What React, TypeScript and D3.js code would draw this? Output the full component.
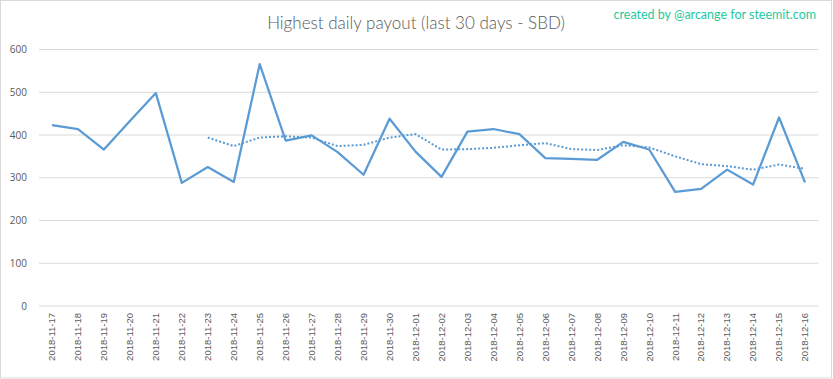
import React from "react";
import * as d3 from "d3";

const categories = [
  "2018-11-17","2018-11-18","2018-11-19","2018-11-20","2018-11-21","2018-11-22","2018-11-23",
  "2018-11-24","2018-11-25","2018-11-26","2018-11-27","2018-11-28","2018-11-29","2018-11-30",
  "2018-12-01","2018-12-02","2018-12-03","2018-12-04","2018-12-05","2018-12-06","2018-12-07",
  "2018-12-08","2018-12-09","2018-12-10","2018-12-11","2018-12-12","2018-12-13","2018-12-14",
  "2018-12-15","2018-12-16",
];

const payout = [
  423, 414, 366, 433, 498, 288, 325, 290, 566, 387, 399, 360, 307, 438, 361,
  302, 408, 414, 402, 346, 344, 342, 384, 366, 267, 274, 319, 284, 441, 289,
];

// 7-day moving average trendline (starts at 2018-11-23)
const trend: (number | null)[] = [
  null, null, null, null, null, null, 394, 374, 394, 397, 394, 374, 377, 394, 402,
  366, 367, 370, 376, 381, 367, 365, 376, 371, 350, 332, 327, 319, 331, 321,
];

const yTicks = [0, 100, 200, 300, 400, 500, 600];

const title = "Highest daily payout (last 30 days - SBD)";
const credit = "created by @arcange for steemit.com";

export default function App() {
  const W = 833;
  const H = 379;
  const left = 39;
  const right = 818;
  const top = 49.5;
  const bottom = 306;

  const x = d3.scaleBand<string>().domain(categories).range([left, right]);
  const y = d3.scaleLinear().domain([0, 600]).range([bottom, top]);
  const cx = (c: string) => (x(c) as number) + x.bandwidth() / 2;

  const line = d3
    .line<number>()
    .x((_, i) => cx(categories[i]))
    .y((d) => y(d));

  const trendLine = d3
    .line<number | null>()
    .defined((d) => d !== null)
    .x((_, i) => cx(categories[i]))
    .y((d) => y(d as number));

  const gray = "#595959";

  return (
    <svg
      width={W}
      height={H}
      style={{ position: "absolute", left: 0, top: 0, background: "#fff" }}
    >
      <rect x={0.5} y={0.5} width={W - 2} height={H - 1.5} fill="#fff" stroke="#d9d9d9" />
      <text
        x={416}
        y={29}
        textAnchor="middle"
        fontFamily="Lato, 'Open Sans', sans-serif"
        fontWeight={300}
        fontSize={17}
        fill={gray}
      >
        {title}
      </text>
      <text
        x={816}
        y={19}
        textAnchor="end"
        fontFamily="Lato, 'Open Sans', sans-serif"
        fontSize={12.5}
        fill="#1fc9a0"
      >
        {credit}
      </text>
      {yTicks.map((t) => (
        <g key={t}>
          <line x1={left} x2={right} y1={y(t)} y2={y(t)} stroke="#d9d9d9" strokeWidth={1} />
          <text
            x={27}
            y={y(t)}
            dy="0.35em"
            textAnchor="end"
            fontFamily="'Open Sans', sans-serif"
            fontSize={10}
            fill={gray}
          >
            {t}
          </text>
        </g>
      ))}
      {categories.map((c) => (
        <text
          key={c}
          transform={`translate(${cx(c)},313) rotate(-90)`}
          dy="0.35em"
          textAnchor="end"
          fontFamily="'Liberation Sans', Arial, sans-serif"
          fontSize={9.5}
          fill={gray}
        >
          {c}
        </text>
      ))}
      <path
        d={trendLine(trend) || ""}
        fill="none"
        stroke="#5b9bd5"
        strokeWidth={2}
        strokeDasharray="2 2"
      />
      <path
        d={line(payout) || ""}
        fill="none"
        stroke="#5b9bd5"
        strokeWidth={2.25}
        strokeLinejoin="round"
      />
    </svg>
  );
}
